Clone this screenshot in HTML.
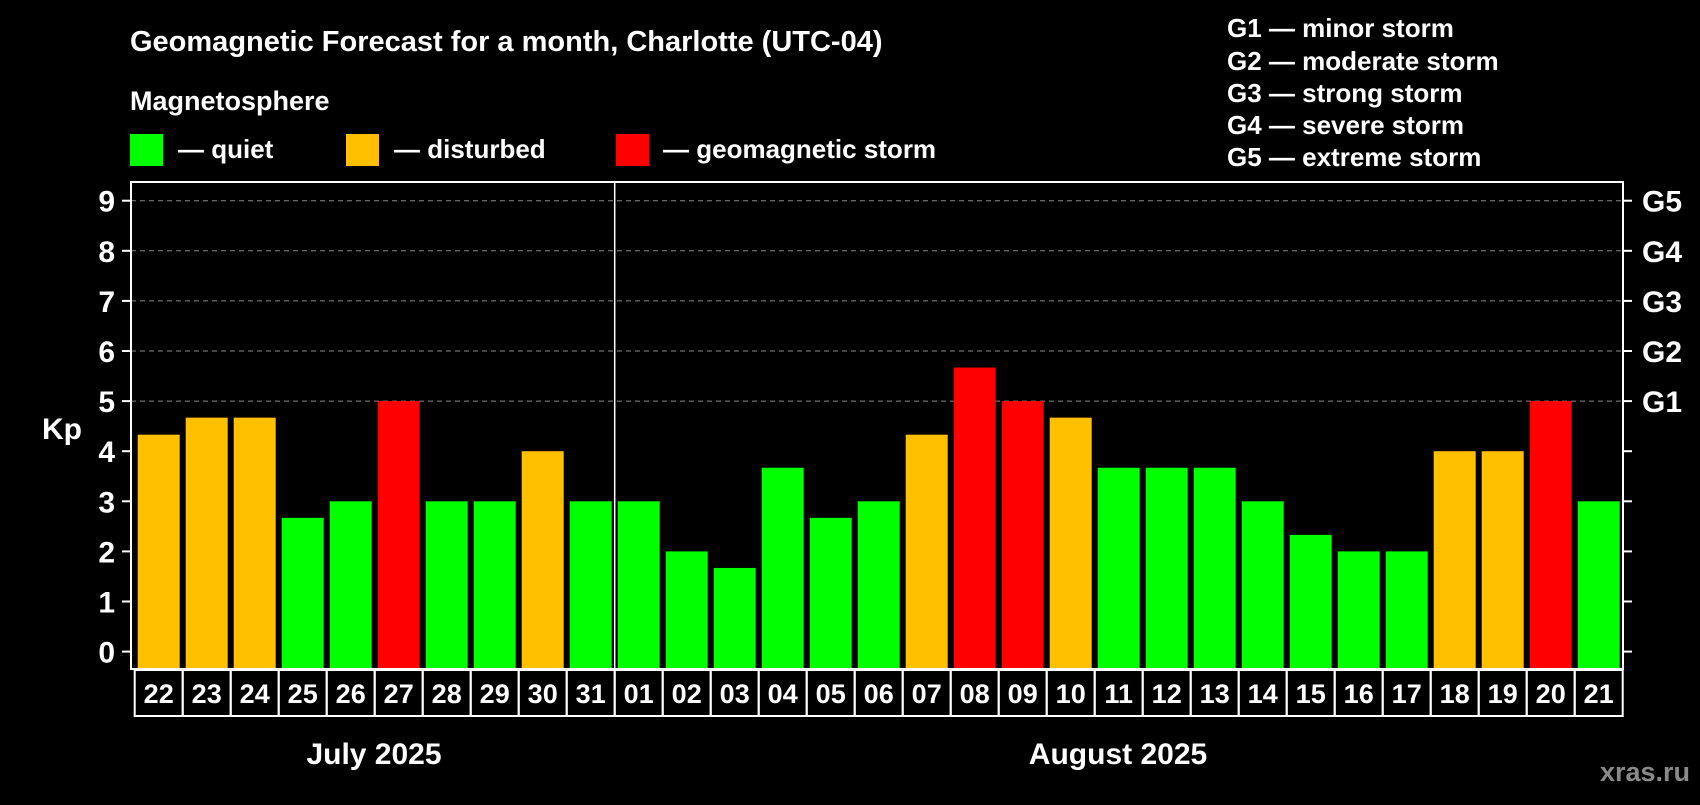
<!DOCTYPE html>
<html><head><meta charset="utf-8"><style>
body{margin:0;background:#000;width:1700px;height:800px;overflow:hidden;font-family:"Liberation Sans",sans-serif;}
svg text{font-family:"Liberation Sans",sans-serif;font-weight:bold;fill:#fff;}
</style></head><body>
<svg width="1700" height="800">
<rect width="1700" height="800" fill="#000"/>
<text x="130" y="51" font-size="29">Geomagnetic Forecast for a month, Charlotte (UTC-04)</text>
<text x="130" y="110" font-size="27">Magnetosphere</text>
<g><rect x="130" y="134" width="33" height="32" fill="#00ff00"/><text x="178" y="158" font-size="26">— quiet</text></g>
<g><rect x="346" y="134" width="33" height="32" fill="#ffc000"/><text x="394" y="158" font-size="26">— disturbed</text></g>
<g><rect x="616" y="134" width="33" height="32" fill="#ff0000"/><text x="663" y="158" font-size="26">— geomagnetic storm</text></g>
<g font-size="26">
<text x="1227" y="37">G1 — minor storm</text>
<text x="1227" y="70">G2 — moderate storm</text>
<text x="1227" y="102">G3 — strong storm</text>
<text x="1227" y="134">G4 — severe storm</text>
<text x="1227" y="166">G5 — extreme storm</text>
</g>
<text x="42" y="439" font-size="30">Kp</text>
<g id="grid"></g><g id="bars"></g><g id="axes"></g>
<text x="374" y="764" font-size="30" text-anchor="middle">July 2025</text>
<text x="1118" y="764" font-size="30" text-anchor="middle">August 2025</text>
<text x="1690" y="781" font-size="27" text-anchor="end" style="fill:#8a8a8a">xras.ru</text>
</svg>
<script>
const days=["22","23","24","25","26","27","28","29","30","31","01","02","03","04","05","06","07","08","09","10","11","12","13","14","15","16","17","18","19","20","21"];
const kp=[4.33,4.67,4.67,2.67,3,5,3,3,4,3,3,2,1.67,3.67,2.67,3,4.33,5.67,5,4.67,3.67,3.67,3.67,3,2.33,2,2,4,4,5,3];
const yTicks=[0,1,2,3,4,5,6,7,8,9];
const gLabels=["G1","G2","G3","G4","G5"];
const NS="http://www.w3.org/2000/svg";
const L=131,R=1623,T=182,B=669;
const y=v=>651.6-v*50.1;
const x0=137.7,pitch=48.0,bw=42;
const bx=i=>x0+i*pitch;
function mk(p,tag,a){const e=document.createElementNS(NS,tag);for(const k in a)e.setAttribute(k,a[k]);p.appendChild(e);return e;}
const grid=document.getElementById('grid'),bars=document.getElementById('bars'),axes=document.getElementById('axes');
yTicks.forEach(t=>{
 if(t>=5){const g=mk(grid,'line',{x1:L,x2:R,y1:y(t),y2:y(t),stroke:'#888','stroke-dasharray':'5,4','stroke-width':1});
 
 }
 mk(axes,'line',{x1:L-9,x2:L,y1:y(t),y2:y(t),stroke:'#fff','stroke-width':2});
 mk(axes,'line',{x1:R,x2:R+9,y1:y(t),y2:y(t),stroke:'#fff','stroke-width':2});
 const tl=mk(axes,'text',{x:115,y:y(t)+11,'font-size':30,'text-anchor':'end'});tl.textContent=t;
 
 
});
gLabels.forEach((g,i)=>{const t=mk(axes,'text',{x:1642,y:y(5+i)+11,'font-size':30});t.textContent=g;
 
 });
kp.forEach((v,i)=>{
 const c=v>=5?'#ff0000':(v>=4?'#ffc000':'#00ff00');
 const r=mk(bars,'rect',{x:bx(i),y:y(v),width:bw,height:B-y(v),fill:c});
 
 
});
mk(axes,'rect',{x:L,y:T,width:R-L,height:B-T,fill:'none',stroke:'#fff','stroke-width':2});
const mid=(bx(9)+bw+bx(10))/2;
mk(axes,'line',{x1:mid,x2:mid,y1:T,y2:B,stroke:'#fff','stroke-width':1.5});
days.forEach((d,i)=>{
 const l=bx(i)-3;
 const b=mk(axes,'rect',{x:l,y:670,width:pitch,height:46,fill:'none',stroke:'#fff','stroke-width':2});
 
 
 const t=mk(axes,'text',{x:bx(i)+bw/2,y:703,'font-size':27,'text-anchor':'middle'});t.textContent=d;
 
 
});
</script>
</body></html>
